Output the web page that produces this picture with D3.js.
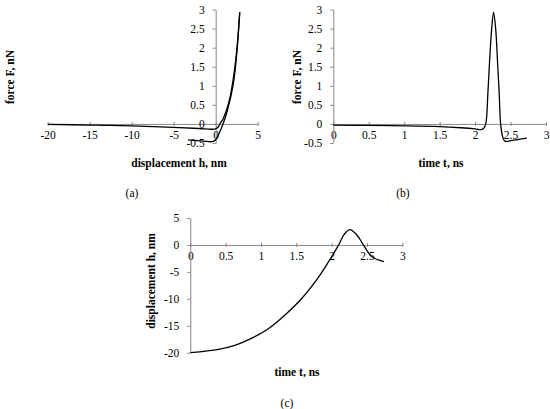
<!DOCTYPE html>
<html>
<head>
<meta charset="utf-8">
<script src="https://cdn.jsdelivr.net/npm/d3@7"></script>
<style>
  body { margin: 0; background: #fff; }
  .tick text { font-family: "Liberation Serif", "Times New Roman", serif; font-size: 11.5px; fill: #000; }
  .axis path, .axis line { stroke: #868686; }
  .title { font-family: "Liberation Serif", "Times New Roman", serif; font-size: 11.5px; font-weight: bold; }
  .sub { font-family: "Liberation Serif", "Times New Roman", serif; font-size: 11.5px; }
</style>
</head>
<body>
<script>
// (a) force vs displacement, approach and retract branches
var approachH = [-20, -15, -10, -5, -2, -0.5, 0, 0.3, 0.5, 0.87, 1.27, 1.67, 2.06, 2.38, 2.62, 2.86],
    approachF = [-0.01, -0.03, -0.05, -0.09, -0.12, -0.14, -0.13, -0.08, 0, 0.13, 0.35, 0.66, 1.14, 1.67, 2.2, 2.93];
var retractH = [2.86, 2.55, 2.2, 1.87, 1.59, 1.27, 0.87, 0.48, 0.08, -0.3, -1.5, -3.3],
    retractF = [2.93, 1.95, 1.2, 0.79, 0.53, 0.26, 0, -0.21, -0.39, -0.46, -0.45, -0.42];

// (b) force vs time
var timeF = [0, 0.5, 1, 1.5, 1.8, 2.0, 2.09, 2.12, 2.15, 2.18, 2.2, 2.23, 2.26, 2.29, 2.32, 2.34, 2.36, 2.39, 2.42, 2.5, 2.6, 2.73],
    forceF = [-0.03, -0.04, -0.05, -0.07, -0.1, -0.13, -0.15, -0.12, 0, 0.8, 1.5, 2.4, 2.93, 2.5, 1.5, 0.8, 0, -0.35, -0.45, -0.44, -0.41, -0.37];

// (c) displacement vs time
var timeH = [0, 0.4, 0.64, 0.87, 1.11, 1.34, 1.58, 1.82, 2.0, 2.1, 2.18, 2.26, 2.36, 2.45, 2.57, 2.74],
    dispH = [-20, -19.4, -18.6, -17.3, -15.5, -13.0, -9.9, -5.9, -2.2, 0, 2.0, 2.84, 1.8, 0, -2.2, -3.1];

var forceTicks = [-0.5, 0, 0.5, 1, 1.5, 2, 2.5, 3],
    dispTicks = [-20, -15, -10, -5, 0, 5],
    timeTicks = [0, 0.5, 1, 1.5, 2, 2.5, 3];

var svg = d3.select('body')
    .append('svg')
     .attr('width', 550)
     .attr('height', 409);

var line = d3.line().curve(d3.curveCatmullRom.alpha(0.5));

function panel(p) {
    var x = d3.scaleLinear().domain(d3.extent(p.xTicks)).range(p.xRange);
    var y = d3.scaleLinear().domain(d3.extent(p.yTicks)).range(p.yRange);
    var g = svg.append('g');

    var xAxis = d3.axisBottom(x)
        .tickValues(p.xTicks)
        .tickFormat(function(d) { return String(d); })
        .tickSizeInner(3).tickSizeOuter(0).tickPadding(4);
    var gx = g.append('g')
        .attr('class', 'axis')
        .attr('transform', 'translate(0,' + y(0) + ')')
        .call(xAxis);
    gx.selectAll('.tick line').attr('y1', -2).attr('y2', 2);

    var yAxis = d3.axisLeft(y)
        .tickValues(p.yTicks)
        .tickFormat(function(d) { return String(d); })
        .tickSizeInner(3).tickSizeOuter(0).tickPadding(8);
    g.append('g')
        .attr('class', 'axis')
        .attr('transform', 'translate(' + x(0) + ',0)')
        .call(yAxis);

    p.series.forEach(function(s) {
        g.append('path')
            .attr('d', line(s.xs.map(function(v, i) { return [x(v), y(s.ys[i])]; })))
            .attr('fill', 'none')
            .attr('stroke', '#000')
            .attr('stroke-width', 1.3);
    });

    g.append('text').attr('class', 'title')
        .attr('x', p.xTitle[0]).attr('y', p.xTitle[1])
        .attr('text-anchor', 'middle').attr('dy', '0.35em')
        .text(p.xLabel);
    g.append('text').attr('class', 'title')
        .attr('transform', 'translate(' + p.yTitle[0] + ',' + p.yTitle[1] + ') rotate(-90)')
        .attr('text-anchor', 'middle').attr('dy', '0.35em')
        .text(p.yLabel);
    g.append('text').attr('class', 'sub')
        .attr('x', p.sub[0]).attr('y', p.sub[1])
        .attr('text-anchor', 'middle').attr('dy', '0.35em')
        .text(p.subLabel);
}

panel({
    xTicks: dispTicks, yTicks: forceTicks,
    xRange: [47.7, 257.7], yRange: [143, 9.5],
    series: [{ xs: approachH, ys: approachF }, { xs: retractH, ys: retractF }],
    xLabel: 'displacement h, nm', xTitle: [179, 163],
    yLabel: 'force F, nN', yTitle: [10, 77],
    subLabel: '(a)', sub: [132, 193]
});

panel({
    xTicks: timeTicks, yTicks: forceTicks,
    xRange: [333.3, 546], yRange: [143, 9.5],
    series: [{ xs: timeF, ys: forceF }],
    xLabel: 'time t, ns', xTitle: [441, 163],
    yLabel: 'force F, nN', yTitle: [297, 77],
    subLabel: '(b)', sub: [403, 193]
});

panel({
    xTicks: timeTicks, yTicks: dispTicks,
    xRange: [190.3, 402.3], yRange: [352.7, 218],
    series: [{ xs: timeH, ys: dispH }],
    xLabel: 'time t, ns', xTitle: [297, 372],
    yLabel: 'displacement h, nm', yTitle: [151, 281],
    subLabel: '(c)', sub: [287, 403]
});
</script>
</body>
</html>
